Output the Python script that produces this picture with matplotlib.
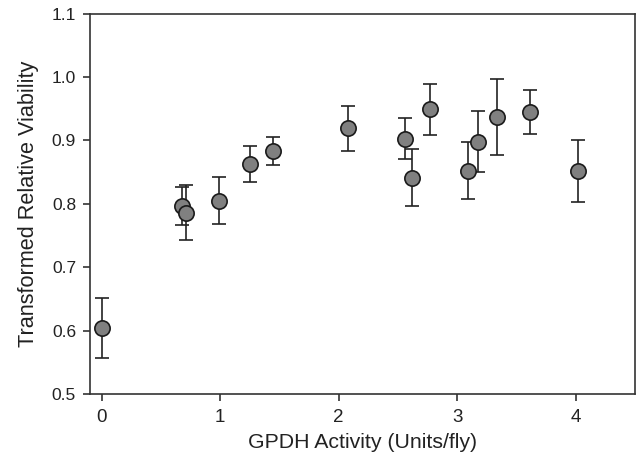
import matplotlib
matplotlib.use("Agg")
import matplotlib.pyplot as plt

plt.rcParams['font.family'] = ['Liberation Sans', 'DejaVu Sans']

activity = [0.0, 0.678, 0.709, 0.987, 1.249, 1.446, 2.08, 2.557, 2.622,
            2.768, 3.091, 3.18, 3.336, 3.614, 4.02]
viability = [0.604, 0.796, 0.786, 0.805, 0.863, 0.884, 0.919, 0.903, 0.841,
             0.949, 0.852, 0.898, 0.937, 0.945, 0.852]
err = [0.048, 0.030, 0.043, 0.037, 0.028, 0.022, 0.036, 0.032, 0.045,
       0.040, 0.045, 0.048, 0.060, 0.035, 0.049]

fig = plt.figure(figsize=(6.38, 4.58), dpi=100)
ax = fig.add_axes([0.141, 0.14, 0.854, 0.83])

ax.errorbar(activity, viability, yerr=err, fmt='o', color='#333333',
            ecolor='#222222', elinewidth=1.2, capsize=5, capthick=1.2,
            markersize=11, markerfacecolor='#808080', markeredgecolor='#1a1a1a',
            markeredgewidth=1.2)

ax.set_xlim(-0.1, 4.5)
ax.set_ylim(0.5, 1.1)
ax.set_xticks([0, 1, 2, 3, 4])
ax.set_yticks([0.5, 0.6, 0.7, 0.8, 0.9, 1.0, 1.1])
ax.set_yticklabels(['0.5', '0.6', '0.7', '0.8', '0.9', '1.0', '1.1'])
ax.tick_params(length=5, width=1.2, color='#333333', labelcolor='#222222')
ax.tick_params(axis='y', labelsize=12.5, pad=5)
ax.tick_params(axis='x', labelsize=13.5, pad=6)
for s in ax.spines.values():
    s.set_linewidth(1.2)
    s.set_color('#333333')

ax.set_xlabel("GPDH Activity (Units/fly)", fontsize=15.3, labelpad=5,
              color='#222222')
ax.set_ylabel("Transformed Relative Viability", fontsize=15.6, labelpad=9,
              color='#222222')

fig.savefig("out.png", dpi=100)
